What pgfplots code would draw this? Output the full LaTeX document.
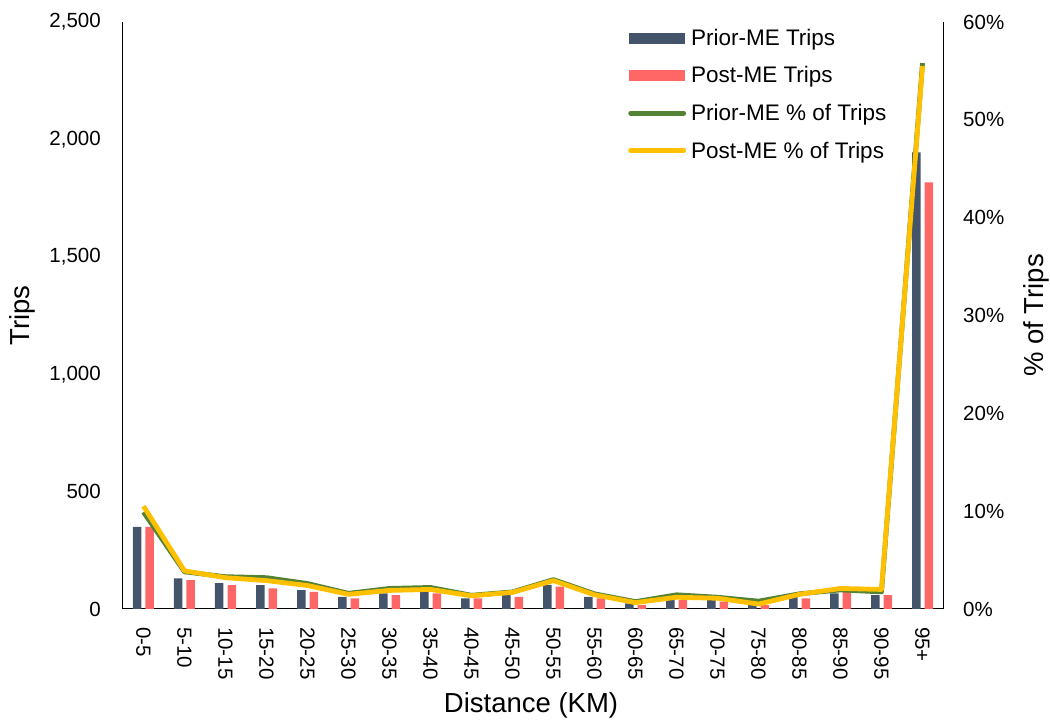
\documentclass[border=0pt]{standalone}
\usepackage{pgfplots}
\usepackage{pgfplotstable}
\pgfplotsset{compat=1.18}
\usepackage{fontspec}
\setmainfont{Liberation Sans}

\definecolor{priorbar}{HTML}{44546A}
\definecolor{postbar}{HTML}{FF6666}
\definecolor{priorline}{HTML}{548235}
\definecolor{postline}{HTML}{FFC000}

% trips per distance band, before and after, with each band's share of all trips (%)
\pgfplotstableread{
idx prior post priorpct postpct
0   350   350  9.9   10.5
1   130   123  3.8   3.9
2   110   102  3.3   3.2
3   102   88   3.2   2.9
4   80    73   2.6   2.4
5   52    45   1.6   1.5
6   66    59   2.1   1.9
7   73    66   2.2   2.0
8   45    45   1.4   1.35
9   59    52   1.75  1.7
10  103   95   3.0   2.9
11  52    45   1.55  1.45
12  24    16   0.75  0.65
13  38    38   1.45  1.2
14  38    31   1.2   1.1
15  16    16   0.8   0.5
16  52    45   1.55  1.5
17  66    73   1.95  2.1
18  59    59   1.75  2.0
19  1945  1817 55.8  55.5
}\tripdata

\begin{document}
\begin{tikzpicture}[x=1pt,y=1pt]
\useasboundingbox (0,0) rectangle (1050,722);
\pgfplotsset{
  every non boxed x axis/.style={},
  every non boxed y axis/.style={},
  base/.style={
    scale only axis, width=820pt, height=587pt,
    at={(123pt,113pt)}, anchor=south west,
    xmin=-0.5, xmax=19.5, ymin=0,
    major tick length=0pt,
    tick style={draw=none},
    scaled y ticks=false,
    /pgf/number format/assume math mode=true,
    ticklabel style={font=\fontsize{20.5}{24}\selectfont, inner sep=0pt},
    axis line style={line width=1pt, black, -},
  }
}
% bars on the left axis
\begin{axis}[base,
  axis x line=bottom, axis y line=left,
  x axis line style={-}, y axis line style={-},
  ymax=2500, ytick={0,500,...,2500},
  /pgf/number format/.cd, 1000 sep={,}, /pgfplots/.cd,
  yticklabel style={anchor=east},
  yticklabel shift=22pt,
  xtick={0,...,19},
  xticklabels={0-5,5-10,10-15,15-20,20-25,25-30,30-35,35-40,40-45,45-50,
               50-55,55-60,60-65,65-70,70-75,75-80,80-85,85-90,90-95,95+},
  xticklabel style={rotate=-90, anchor=west},
  xticklabel shift=18pt,
  xlabel={Distance (KM)},
  xlabel style={at={(axis description cs:0.4976,-0.1635)}, anchor=center,
    font=\fontsize{27.5}{30}\selectfont},
  ylabel={Trips},
  ylabel style={at={(axis description cs:-0.1232,0.5)}, anchor=center,
    font=\fontsize{27.5}{30}\selectfont},
  ybar=4pt, bar width=8.5pt,
]
\addplot[fill=priorbar, draw=none] table[x=idx, y=prior] {\tripdata};
\addplot[fill=postbar, draw=none] table[x=idx, y=post] {\tripdata};
\end{axis}
% shares on the right axis
\begin{axis}[base,
  axis x line=none, axis y line=right,
  y axis line style={-},
  ymax=60, ytick={0,10,...,60},
  yticklabel={\pgfmathprintnumber{\tick}\%},
  yticklabel style={anchor=west},
  yticklabel shift=20pt,
  ylabel={\% of Trips},
  ylabel style={at={(axis description cs:1.114,0.5)}, anchor=center,
    font=\fontsize{27.5}{30}\selectfont},
  legend style={at={(axis description cs:0.6159,0.9883)}, anchor=north west,
    draw=none, fill=none, inner sep=0pt, row sep=19.8pt,
    font=\fontsize{22.5}{25}\selectfont,
    nodes={inner sep=0pt},
    /tikz/every odd column/.append style={column sep=5pt}},
  legend cell align=left,
]
\addlegendimage{legend image code/.code={\fill[priorbar] (0pt,-5pt) rectangle (55pt,5pt);}}
\addlegendentry{Prior-ME Trips}
\addlegendimage{legend image code/.code={\fill[postbar] (0pt,-5pt) rectangle (55pt,5pt);}}
\addlegendentry{Post-ME Trips}
\addplot[priorline, line width=4.8pt, line join=round,
  legend image code/.code={\draw[priorline, line width=4.8pt, line cap=round] (1pt,0pt) -- (54pt,0pt);}]
  table[x=idx, y=priorpct] {\tripdata};
\addlegendentry{Prior-ME \% of Trips}
\addplot[postline, line width=4.8pt, line join=round,
  legend image code/.code={\draw[postline, line width=4.8pt, line cap=round] (1pt,0pt) -- (54pt,0pt);}]
  table[x=idx, y=postpct] {\tripdata};
\addlegendentry{Post-ME \% of Trips}
\end{axis}
\end{tikzpicture}
\end{document}
